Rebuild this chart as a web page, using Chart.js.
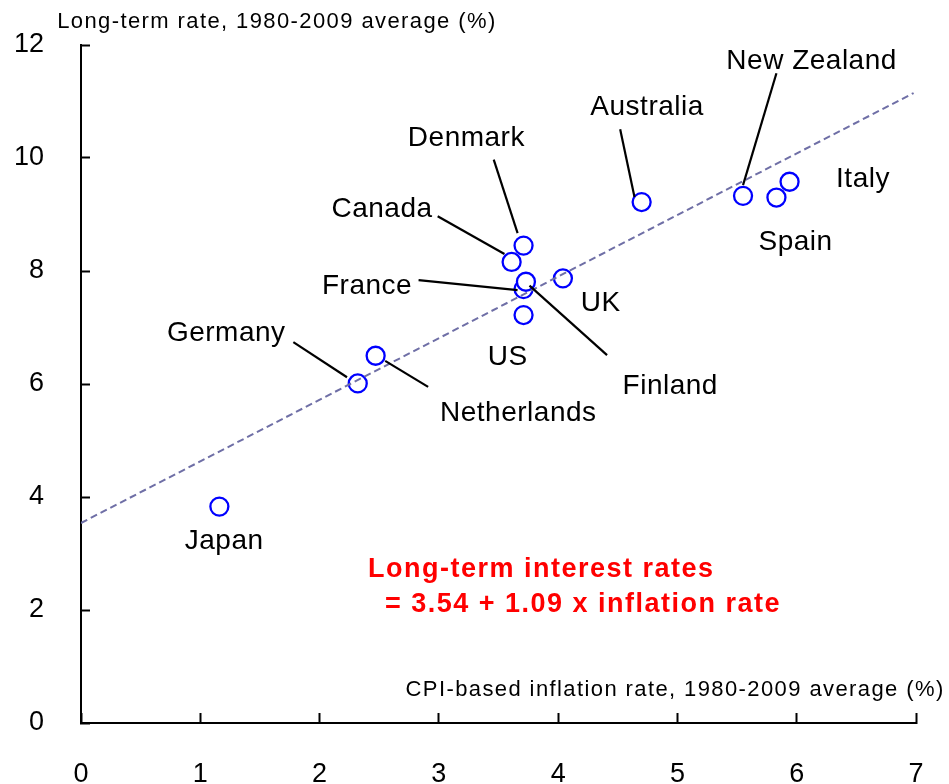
<!DOCTYPE html>
<html>
<head>
<meta charset="utf-8">
<script src="https://cdn.jsdelivr.net/npm/chart.js@4.4.0/dist/chart.umd.min.js"></script>
<style>
	html, body { margin: 0; padding: 0; background: #fff; }
	#wrap { width: 949px; height: 784px; position: relative; }
</style>
</head>
<body>
<div id="wrap"><canvas id="c"></canvas></div>
<script>
// points, drawn in this order (later ones sit on top)
const countries = ['Japan', 'Germany', 'Netherlands', 'Denmark', 'Canada', 'France', 'Finland', 'US', 'UK', 'Australia', 'New Zealand', 'Italy', 'Spain'];
const inflation = [1.16, 2.32, 2.47, 3.71, 3.61, 3.71, 3.73, 3.71, 4.04, 4.70, 5.55, 5.94, 5.83];
const longRate  = [3.83, 6.01, 6.50, 8.45, 8.16, 7.68, 7.81, 7.22, 7.87, 9.22, 9.33, 9.58, 9.30];

// regression line end points
const trendX = [0, 6.98];
const trendY = [3.54, 11.15];

const xTicks = [0, 1, 2, 3, 4, 5, 6, 7];
const yTicks = [0, 2, 4, 6, 8, 10, 12];

// country labels, left edge / baseline in data units
const noteText = ['Denmark', 'Canada', 'France', 'UK', 'Finland', 'US', 'Germany', 'Netherlands', 'Japan', 'Australia', 'New Zealand', 'Italy', 'Spain'];
const noteX = [2.74, 2.10, 2.02, 4.19, 4.54, 3.41, 0.72, 3.01, 0.87, 4.27, 5.41, 6.33, 5.68];
const noteY = [10.21, 8.96, 7.59, 7.29, 5.82, 6.34, 6.76, 5.35, 3.08, 10.76, 11.58, 9.49, 8.37];

// leader lines x1, y1, x2, y2
const leaders = [
	[3.46, 9.97, 3.66, 8.67],   // Denmark
	[2.99, 8.97, 3.55, 8.30],   // Canada
	[2.83, 7.84, 3.66, 7.66],   // France
	[3.76, 7.74, 4.41, 6.51],   // Finland
	[1.78, 6.74, 2.23, 6.12],   // Germany
	[2.55, 6.41, 2.91, 5.95],   // Netherlands
	[4.52, 10.51, 4.64, 9.31],  // Australia
	[5.83, 11.50, 5.55, 9.52]   // New Zealand
];

const FONT = '"Liberation Sans", Arial, sans-serif';

const notesPlugin = {
	id: 'notes',
	afterDatasetsDraw(chart) {
		const { ctx } = chart;
		const sx = chart.scales.x, sy = chart.scales.y;
		const px = v => sx.getPixelForValue(v);
		const py = v => sy.getPixelForValue(v);
		ctx.save();

		ctx.strokeStyle = '#000';
		ctx.lineWidth = 2.2;
		leaders.forEach(l => {
			ctx.beginPath();
			ctx.moveTo(px(l[0]), py(l[1]));
			ctx.lineTo(px(l[2]), py(l[3]));
			ctx.stroke();
		});

		ctx.fillStyle = '#000';
		ctx.textAlign = 'left';
		ctx.textBaseline = 'alphabetic';
		ctx.font = '28px ' + FONT;
		ctx.letterSpacing = '0.5px';
		noteText.forEach((t, i) => ctx.fillText(t, px(noteX[i]), py(noteY[i])));

		// axis captions
		ctx.font = '22px ' + FONT;
		ctx.letterSpacing = '1.4px';
		ctx.fillText('Long-term rate, 1980-2009 average (%)', px(-0.2), py(12.3));
		ctx.textAlign = 'right';
		ctx.fillText('CPI-based inflation rate, 1980-2009 average (%)', px(7.24), py(0.48));

		// equation
		ctx.textAlign = 'left';
		ctx.fillStyle = '#ff0000';
		ctx.font = 'bold 27px ' + FONT;
		ctx.letterSpacing = '1.5px';
		ctx.fillText('Long-term interest rates', px(2.406), py(2.584));
		ctx.fillText('= 3.54 + 1.09 x inflation rate', px(2.548), py(1.965));

		ctx.restore();
	}
};

new Chart(document.getElementById('c'), {
	type: 'scatter',
	data: {
		datasets: [
			{
				type: 'line',
				data: trendX.map((x, i) => ({ x: x, y: trendY[i] })),
				borderColor: '#6f6fa6',
				borderWidth: 2,
				borderDash: [7, 4],
				pointRadius: 0,
				fill: false
			},
			{
				data: inflation.map((x, i) => ({ x: x, y: longRate[i] })),
				pointStyle: 'circle',
				pointRadius: 9,
				pointBorderWidth: 2.3,
				borderColor: '#0000ff',
				backgroundColor: '#ffffff'
			}
		]
	},
	options: {
		responsive: true,
		maintainAspectRatio: false,
		animation: false,
		layout: { padding: { left: 0, right: 33, top: 45, bottom: 0 } },
		plugins: { legend: { display: false }, tooltip: { enabled: false } },
		scales: {
			x: {
				type: 'linear', min: 0, max: 7,
				afterBuildTicks: s => { s.ticks = xTicks.map(v => ({ value: v })); },
				afterFit: s => { s.height = 61; s.paddingLeft = 0; s.paddingRight = 0; },
				border: { color: '#000', width: 2 },
				grid: { drawOnChartArea: false, tickLength: -10, tickColor: '#000', tickWidth: 2 },
				ticks: { color: '#000', padding: 45, font: { family: FONT, size: 27 } }
			},
			y: {
				type: 'linear', min: 0, max: 12,
				afterBuildTicks: s => { s.ticks = yTicks.map(v => ({ value: v })); },
				afterFit: s => { s.width = 81; s.paddingTop = 0; s.paddingBottom = 0; },
				border: { color: '#000', width: 2 },
				grid: { drawOnChartArea: false, tickLength: -9, tickColor: '#000', tickWidth: 2 },
				ticks: { color: '#000', padding: 46, font: { family: FONT, size: 27 } }
			}
		}
	},
	plugins: [notesPlugin]
});
</script>
</body>
</html>
